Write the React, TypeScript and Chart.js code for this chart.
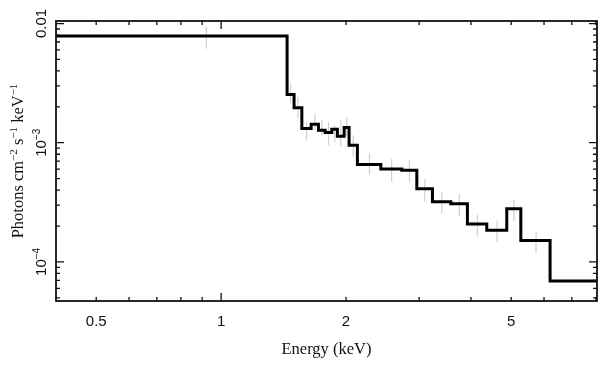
import React, { useEffect, useRef } from "react";
import { Chart, registerables } from "chart.js";

Chart.register(...registerables);

// Bin edges (keV) and model flux (photons cm^-2 s^-1 keV^-1)
const binLo = [0.4, 1.442, 1.499, 1.565, 1.648, 1.716, 1.781, 1.848, 1.906, 1.979, 2.034, 2.13, 2.426, 2.725, 2.962, 3.23, 3.577, 3.922, 4.367, 4.879, 5.275, 6.205];
const binHiLast = 10.0;
const modelFlux = [7.87e-3, 2.535e-3, 1.965e-3, 1.313e-3, 1.426e-3, 1.271e-3, 1.216e-3, 1.296e-3, 1.133e-3, 1.339e-3, 9.53e-4, 6.58e-4, 6.01e-4, 5.87e-4, 4.1e-4, 3.19e-4, 3.07e-4, 2.08e-4, 1.84e-4, 2.79e-4, 1.51e-4, 6.92e-5];
// Data error bars (lower / upper)
const errLow = [6.13e-3, 2.15e-3, 1.6e-3, 1.05e-3, 1.27e-3, 1.155e-3, 9.53e-4, 1.015e-3, 9.23e-4, 1.14e-3, 7.62e-4, 5.36e-4, 4.71e-4, 4.71e-4, 3.21e-4, 2.54e-4, 2.41e-4, 1.64e-4, 1.46e-4, 2.19e-4, 1.19e-4, null];
const errHigh = [9.53e-3, 3.1e-3, 2.41e-3, 1.49e-3, 1.76e-3, 1.54e-3, 1.49e-3, 1.4e-3, 1.54e-3, 1.64e-3, 1.155e-3, 8.18e-4, 7.29e-4, 7.16e-4, 4.96e-4, 3.82e-4, 3.72e-4, 2.49e-4, 2.23e-4, 3.36e-4, 1.81e-4, null];

// Axis ticks
const xMajorTicks = [1];
const xMinorTicks = [0.5, 0.6, 0.7, 0.8, 0.9, 2, 3, 4, 5, 6, 7, 8];
const xTickLabels = [0.5, 1, 2, 5];
const yMajorTicks = [1e-4, 1e-3, 1e-2];
const yMinorTicks = [5e-5, 6e-5, 7e-5, 8e-5, 9e-5, 2e-4, 3e-4, 4e-4, 5e-4, 6e-4, 7e-4, 8e-4, 9e-4, 2e-3, 3e-3, 4e-3, 5e-3, 6e-3, 7e-3, 8e-3, 9e-3];
const yTickLabels: [number, string, string][] = [
  [1e-2, "0.01", ""],
  [1e-3, "10", "\u22123"],
  [1e-4, "10", "\u22124"],
];

const SANS = '"Liberation Sans", Arial, Helvetica, sans-serif';
const SERIF = '"Liberation Serif", "Times New Roman", serif';

function drawSupText(
  ctx: CanvasRenderingContext2D,
  parts: [string, string][],
  cx: number,
  cy: number,
  size: number,
  supSize: number,
  family: string,
  raise: number
) {
  const mainFont = `${size}px ${family}`;
  const supFont = `${supSize}px ${family}`;
  let total = 0;
  for (const [t, s] of parts) {
    ctx.font = mainFont;
    total += ctx.measureText(t).width;
    if (s) {
      ctx.font = supFont;
      total += ctx.measureText(s).width;
    }
  }
  let x = cx - total / 2;
  const base = cy + size * 0.35;
  ctx.textAlign = "left";
  ctx.textBaseline = "alphabetic";
  for (const [t, s] of parts) {
    ctx.font = mainFont;
    ctx.fillText(t, x, base);
    x += ctx.measureText(t).width;
    if (s) {
      ctx.font = supFont;
      ctx.fillText(s, x, base - raise);
      x += ctx.measureText(s).width;
    }
  }
}

const framePlugin = {
  id: "xspecFrame",
  afterDraw(chart: any) {
    const { ctx, chartArea: a, scales } = chart;
    const xs = scales.x;
    const ys = scales.y;
    ctx.save();
    ctx.strokeStyle = "#111";
    ctx.fillStyle = "#111";
    ctx.lineWidth = 1.8;
    ctx.strokeRect(a.left, a.top, a.right - a.left, a.bottom - a.top);

    ctx.lineWidth = 1.3;
    const xTick = (v: number, len: number) => {
      const px = xs.getPixelForValue(v);
      ctx.beginPath();
      ctx.moveTo(px, a.bottom);
      ctx.lineTo(px, a.bottom - len);
      ctx.moveTo(px, a.top);
      ctx.lineTo(px, a.top + len);
      ctx.stroke();
    };
    const yTick = (v: number, len: number) => {
      const py = ys.getPixelForValue(v);
      ctx.beginPath();
      ctx.moveTo(a.left, py);
      ctx.lineTo(a.left + len, py);
      ctx.moveTo(a.right, py);
      ctx.lineTo(a.right - len, py);
      ctx.stroke();
    };
    xMajorTicks.forEach((v) => xTick(v, 8));
    xMinorTicks.forEach((v) => xTick(v, 4));
    yMajorTicks.forEach((v) => yTick(v, 8));
    yMinorTicks.forEach((v) => yTick(v, 4));

    // x tick labels
    ctx.font = `15px ${SANS}`;
    ctx.textAlign = "center";
    ctx.textBaseline = "middle";
    xTickLabels.forEach((v) => {
      ctx.fillText(String(v), xs.getPixelForValue(v), 322);
    });

    // y tick labels (rotated)
    yTickLabels.forEach(([v, main, sup]) => {
      const py = ys.getPixelForValue(v);
      ctx.save();
      ctx.translate(41, py);
      ctx.rotate(-Math.PI / 2);
      drawSupText(ctx, [[main, sup]], 0, 0, 15, 10, SANS, 6);
      ctx.restore();
    });

    // x title
    ctx.font = `16.5px ${SERIF}`;
    ctx.textAlign = "center";
    ctx.textBaseline = "middle";
    ctx.fillText("Energy (keV)", (a.left + a.right) / 2, 350);

    // y title
    ctx.save();
    ctx.translate(17, (a.top + a.bottom) / 2);
    ctx.rotate(-Math.PI / 2);
    drawSupText(
      ctx,
      [
        ["Photons cm", "\u22122"],
        [" s", "\u22121"],
        [" keV", "\u22121"],
      ],
      0,
      0,
      16.5,
      11,
      SERIF,
      6
    );
    ctx.restore();
    ctx.restore();
  },
};

export default function App() {
  const ref = useRef<HTMLCanvasElement | null>(null);
  useEffect(() => {
    if (!ref.current) return;
    const stepData = binLo.map((e, i) => ({ x: e, y: modelFlux[i] }));
    stepData.push({ x: binHiLast, y: modelFlux[modelFlux.length - 1] });
    const binHi = [...binLo.slice(1), binHiLast];
    const errData: { x: number; y: number | null }[] = [];
    binLo.forEach((lo, i) => {
      const lowV = errLow[i];
      const highV = errHigh[i];
      if (lowV == null || highV == null) return;
      const c = (lo + binHi[i]) / 2;
      errData.push({ x: c, y: lowV });
      errData.push({ x: c, y: highV });
      errData.push({ x: c, y: null });
    });
    const chart = new Chart(ref.current, {
      type: "line",
      data: {
        datasets: [
          {
            label: "model",
            data: stepData,
            stepped: "before",
            borderColor: "#000",
            borderWidth: 3,
            pointRadius: 0,
            fill: false,
            order: 0,
          },
          {
            label: "data",
            data: errData as any,
            borderColor: "#d0d0d0",
            borderWidth: 1.2,
            pointRadius: 0,
            fill: false,
            spanGaps: false,
            order: 1,
          },
        ],
      },
      options: {
        animation: false,
        responsive: false,
        maintainAspectRatio: false,
        layout: { padding: { left: 56, right: 12, top: 21, bottom: 65 } },
        plugins: { legend: { display: false }, tooltip: { enabled: false } },
        scales: {
          x: { type: "logarithmic", min: 0.4, max: 8.05, display: false },
          y: { type: "logarithmic", min: 4.7e-5, max: 0.0105, display: false },
        },
      },
      plugins: [framePlugin],
    });
    return () => chart.destroy();
  }, []);
  return (
    <div style={{ position: "fixed", left: 0, top: 0, width: 609, height: 366, background: "#fff" }}>
      <canvas ref={ref} width={609} height={366} style={{ width: 609, height: 366, display: "block" }} />
    </div>
  );
}
